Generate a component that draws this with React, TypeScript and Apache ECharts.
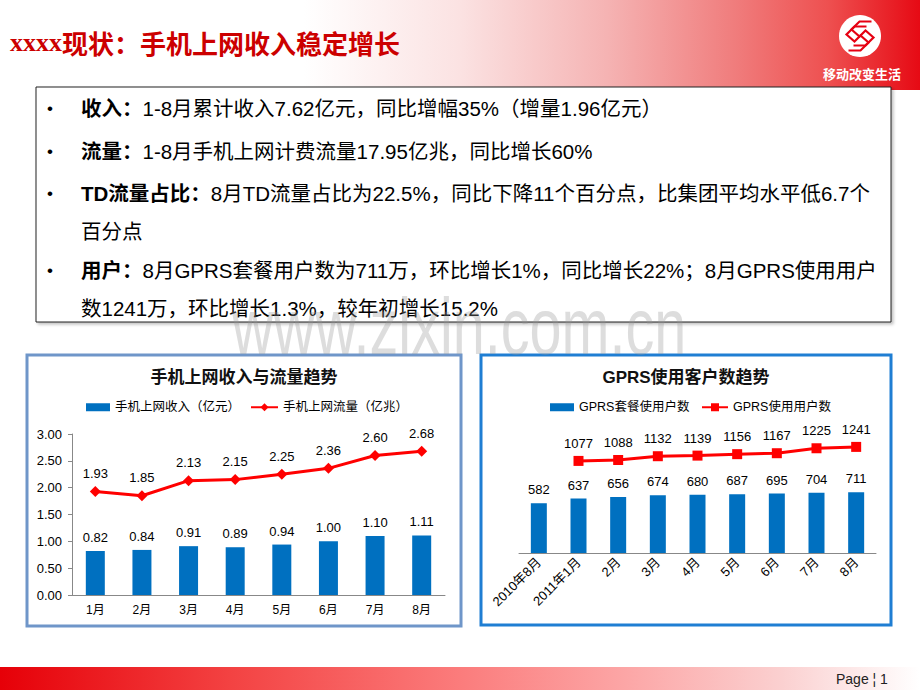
import React, { useEffect, useRef } from 'react';
import * as echarts from 'echarts';

// ---- data ----
const monthCats = ['1月', '2月', '3月', '4月', '5月', '6月', '7月', '8月'];
const revenue = [0.82, 0.84, 0.91, 0.89, 0.94, 1.0, 1.1, 1.11];
const traffic = [1.93, 1.85, 2.13, 2.15, 2.25, 2.36, 2.6, 2.68];
const leftYMin = 0;
const leftYMax = 3;
const leftYInterval = 0.5;

const gprsCats = ['2010年8月', '2011年1月', '2月', '3月', '4月', '5月', '6月', '7月', '8月'];
const packageUsers = [582, 637, 656, 674, 680, 687, 695, 704, 711];
const gprsUsers: (number | null)[] = [null, 1077, 1088, 1132, 1139, 1156, 1167, 1225, 1241];
const rightYMax = 2000;

const seriesNames = ['手机上网收入（亿元）', '手机上网流量（亿兆）', 'GPRS套餐使用户数', 'GPRS使用用户数'];
const chartTitles = ['手机上网收入与流量趋势', 'GPRS使用客户数趋势'];
const pageTitleLatin = 'xxxx';
const pageTitleCn = '现状：手机上网收入稳定增长';
const sloganText = '移动改变生活';
const pageText = 'Page ¦ 1';
const watermarkText = 'www.zixin.com.cn';

const bulletLines = [
  { bullet: true, bold: '收入：', text: '1-8月累计收入7.62亿元，同比增幅35%（增量1.96亿元）' },
  { bullet: true, bold: '流量：', text: '1-8月手机上网计费流量17.95亿兆，同比增长60%' },
  { bullet: true, bold: 'TD流量占比：', text: '8月TD流量占比为22.5%，同比下降11个百分点，比集团平均水平低6.7个' },
  { bullet: false, bold: '', text: '百分点' },
  { bullet: true, bold: '用户：', text: '8月GPRS套餐用户数为711万，环比增长1%，同比增长22%；8月GPRS使用用户' },
  { bullet: false, bold: '', text: '数1241万，环比增长1.3%，较年初增长15.2%' },
];
const bulletYs = [108, 151, 193, 231, 270, 308];

const FONT = "'Liberation Sans', 'Noto Sans CJK SC', sans-serif";
const BLUE = '#0070c0';
const RED = '#ff0000';

export default function App() {
  const ref = useRef<HTMLDivElement>(null);

  useEffect(() => {
    if (!ref.current) return;
    const chart = echarts.init(ref.current, undefined, { renderer: 'svg' });

    const graphics: any[] = [];
    // header gradient
    graphics.push({
      type: 'rect', z: 0,
      shape: { x: 0, y: 0, width: 920, height: 90 },
      style: {
        fill: {
          type: 'linear', x: 0, y: 0, x2: 1, y2: 0,
          colorStops: [
            { offset: 0, color: '#ffffff' },
            { offset: 0.33, color: '#ffffff' },
            { offset: 0.5, color: '#fbe2e2' },
            { offset: 0.66, color: '#f5b3b3' },
            { offset: 0.8, color: '#f07c7c' },
            { offset: 0.9, color: '#ee5050' },
            { offset: 1, color: '#e60a14' },
          ],
        },
      },
    });
    // footer gradient
    graphics.push({
      type: 'rect', z: 0,
      shape: { x: 0, y: 667, width: 920, height: 23 },
      style: {
        fill: {
          type: 'linear', x: 0, y: 0, x2: 1, y2: 0,
          colorStops: [
            { offset: 0, color: '#e60008' },
            { offset: 0.25, color: '#f34242' },
            { offset: 0.5, color: '#fb7c7c' },
            { offset: 0.68, color: '#fca6a6' },
            { offset: 0.85, color: '#fbd0d0' },
            { offset: 1, color: '#ffffff' },
          ],
        },
      },
    });
    graphics.push({
      type: 'text', z: 5, x: 836, y: 679,
      style: { text: pageText, fill: '#222', font: "14px 'Liberation Sans Narrow', 'Liberation Sans', sans-serif", verticalAlign: 'middle' },
    });
    // page title
    graphics.push({
      type: 'text', z: 5, x: 10, y: 42,
      style: {
        text: `{a|${pageTitleLatin}}{b|${pageTitleCn}}`,
        verticalAlign: 'middle',
        rich: {
          a: { fontFamily: "'Liberation Serif', serif", fontWeight: 'bold', fontSize: 26, fill: '#cc0000' },
          b: { fontFamily: "'Noto Sans CJK SC', sans-serif", fontWeight: 'bold', fontSize: 26, fill: '#cc0000' },
        },
      },
    });
    // logo
    graphics.push({ type: 'circle', z: 5, shape: { cx: 860, cy: 36, r: 21 }, style: { fill: '#ffffff' } });
    const sBase = [[9, -12], [-3, -12], [-11, -4], [-3, 3], [3, -3], [11, 4], [3, 12], [-9, 12]];
    [[-2.5, 2.5], [2.5, -2.5]].forEach(([dx, dy]) => {
      graphics.push({
        type: 'polyline', z: 6,
        shape: { points: sBase.map(([px, py]) => [860 + px + dx, 36 + py + dy]) },
        style: { stroke: '#e60012', lineWidth: 2.2, fill: null },
      });
    });
    graphics.push({
      type: 'text', z: 5, x: 862, y: 73,
      style: { text: sloganText, fill: '#ffffff', font: "bold 13px 'Noto Sans CJK SC', sans-serif", align: 'center', verticalAlign: 'middle' },
    });
    // text box
    graphics.push({
      type: 'rect', z: 1,
      shape: { x: 36, y: 87, width: 855, height: 235 },
      style: { fill: '#ffffff', stroke: '#222', lineWidth: 1, shadowBlur: 3, shadowOffsetX: 2, shadowOffsetY: 2, shadowColor: 'rgba(0,0,0,0.25)' },
    });
    bulletLines.forEach((ln, i) => {
      const y = bulletYs[i];
      if (ln.bullet) {
        graphics.push({
          type: 'text', z: 5, x: 50, y,
          style: { text: '•', fill: '#000', font: `17px ${FONT}`, align: 'center', verticalAlign: 'middle' },
        });
      }
      graphics.push({
        type: 'text', z: 5, x: 81, y,
        style: {
          text: (ln.bold ? `{b|${ln.bold}}` : '') + `{n|${ln.text}}`,
          verticalAlign: 'middle',
          rich: {
            b: { fontFamily: FONT, fontWeight: 'bold', fontSize: 20.5, fill: '#000' },
            n: { fontFamily: FONT, fontSize: 20.5, fill: '#000' },
          },
        },
      });
    });
    // panels
    graphics.push({
      type: 'rect', z: 0,
      shape: { x: 27, y: 355, width: 434, height: 271 },
      style: { fill: '#ffffff', stroke: '#6f96c9', lineWidth: 3 },
    });
    graphics.push({
      type: 'rect', z: 0,
      shape: { x: 481, y: 355, width: 410, height: 270 },
      style: { fill: '#ffffff', stroke: '#1f7ed3', lineWidth: 3 },
    });
    graphics.push({
      type: 'text', z: 5, x: 244, y: 377,
      style: { text: chartTitles[0], fill: '#111', font: `bold 17px ${FONT}`, align: 'center', verticalAlign: 'middle' },
    });
    graphics.push({
      type: 'text', z: 5, x: 686, y: 377,
      style: { text: chartTitles[1], fill: '#111', font: `bold 17px ${FONT}`, align: 'center', verticalAlign: 'middle' },
    });
    // watermark
    graphics.push({
      type: 'text', z: 50, x: 232, y: 326, scaleX: 0.72,
      style: { text: watermarkText, fill: 'rgba(150,150,150,0.32)', font: `80px ${FONT}`, verticalAlign: 'middle' },
    });

    const labelStyle = { color: '#000', fontFamily: FONT };

    const option: any = {
      animation: false,
      backgroundColor: '#ffffff',
      textStyle: { fontFamily: FONT },
      graphic: { elements: graphics },
      legend: [
        {
          left: 86, top: 401, padding: 0, data: [seriesNames[0]], icon: 'rect', itemWidth: 24, itemHeight: 8,
          textStyle: { fontSize: 12.5, color: '#000', fontFamily: FONT }, z: 10,
        },
        {
          left: 250, top: 401, padding: 0, data: [seriesNames[1]], itemWidth: 27, itemHeight: 10,
          textStyle: { fontSize: 12.5, color: '#000', fontFamily: FONT }, z: 10,
        },
        {
          left: 550, top: 401, padding: 0, data: [seriesNames[2]], icon: 'rect', itemWidth: 24, itemHeight: 8,
          textStyle: { fontSize: 12.5, color: '#000', fontFamily: FONT }, z: 10,
        },
        {
          left: 701, top: 401, padding: 0, data: [seriesNames[3]], itemWidth: 26, itemHeight: 10,
          textStyle: { fontSize: 12.5, color: '#000', fontFamily: FONT }, z: 10,
        },
      ],
      grid: [
        { left: 72, top: 434, width: 373, height: 161, containLabel: false },
        { left: 519, top: 382, width: 357, height: 171, containLabel: false },
      ],
      xAxis: [
        {
          type: 'category', gridIndex: 0, data: monthCats,
          axisLine: { lineStyle: { color: '#888', width: 1 } },
          axisTick: { show: false },
          axisLabel: { ...labelStyle, fontSize: 12, margin: 9 },
        },
        {
          type: 'category', gridIndex: 1, data: gprsCats,
          axisLine: { lineStyle: { color: '#888', width: 1 } },
          axisTick: { show: false },
          axisLabel: { ...labelStyle, fontSize: 13, margin: 7, rotate: 45, interval: 0 },
        },
      ],
      yAxis: [
        {
          type: 'value', gridIndex: 0, min: leftYMin, max: leftYMax, interval: leftYInterval,
          splitLine: { show: false },
          axisLine: { show: true, lineStyle: { color: '#888', width: 1 } },
          axisTick: { show: true, length: 4, lineStyle: { color: '#888' } },
          axisLabel: { ...labelStyle, fontSize: 13, margin: 10, formatter: (v: number) => v.toFixed(2) },
        },
        {
          type: 'value', gridIndex: 1, min: 0, max: rightYMax, show: false,
          splitLine: { show: false },
        },
      ],
      series: [
        {
          name: seriesNames[0], type: 'bar', xAxisIndex: 0, yAxisIndex: 0, data: revenue,
          barWidth: 19, itemStyle: { color: BLUE },
          label: { show: true, position: 'top', distance: 7, ...labelStyle, fontSize: 13, formatter: (p: any) => Number(p.value).toFixed(2) },
        },
        {
          name: seriesNames[1], type: 'line', xAxisIndex: 0, yAxisIndex: 0, data: traffic,
          symbol: 'diamond', symbolSize: 11, lineStyle: { color: RED, width: 3 }, itemStyle: { color: RED },
          label: { show: true, position: 'top', distance: 6, ...labelStyle, fontSize: 13, formatter: (p: any) => Number(p.value).toFixed(2) },
        },
        {
          name: seriesNames[2], type: 'bar', xAxisIndex: 1, yAxisIndex: 1, data: packageUsers,
          barWidth: 16, itemStyle: { color: BLUE },
          label: { show: true, position: 'top', distance: 7, ...labelStyle, fontSize: 13 },
        },
        {
          name: seriesNames[3], type: 'line', xAxisIndex: 1, yAxisIndex: 1, data: gprsUsers,
          symbol: 'rect', symbolSize: 10, lineStyle: { color: RED, width: 3 }, itemStyle: { color: RED },
          label: { show: true, position: 'top', distance: 6, ...labelStyle, fontSize: 13 },
        },
      ],
    };

    chart.setOption(option);
    return () => chart.dispose();
  }, []);

  return (
    <div
      ref={ref}
      style={{ position: 'fixed', left: 0, top: 0, width: 920, height: 690, background: '#fff' }}
    />
  );
}
